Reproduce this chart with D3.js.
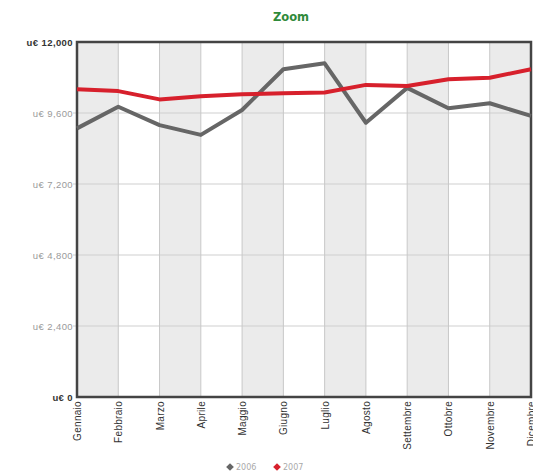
<!DOCTYPE html>
<html>
<head>
<meta charset="utf-8">
<script src="https://cdn.jsdelivr.net/npm/d3@7"></script>
<style>
  html, body { margin: 0; padding: 0; background: #fff; }
  svg { display: block; font-family: "DejaVu Sans", Verdana, sans-serif; }
</style>
</head>
<body>
<svg id="chart" width="533" height="476"></svg>
<script>
// Monthly values (u€) for the two years
const months = ["Gennaio", "Febbraio", "Marzo", "Aprile", "Maggio", "Giugno",
                "Luglio", "Agosto", "Settembre", "Ottobre", "Novembre", "Dicembre"];
const values2006 = [9080, 9810, 9190, 8860, 9700, 11080, 11280, 9270, 10450, 9760, 9930, 9500];
const values2007 = [10400, 10340, 10060, 10170, 10230, 10270, 10290, 10550, 10510, 10740, 10790, 11080];
const yTicks = [0, 2400, 4800, 7200, 9600, 12000];
const seriesNames = ["2006", "2007"];
const seriesColors = ["#666666", "#d7202c"];

const svg = d3.select("#chart");
const plotLeft = 77, plotRight = 531, plotTop = 42, plotBottom = 397;

const x = d3.scalePoint().domain(months).range([plotLeft, plotRight]);
const y = d3.scaleLinear().domain([0, 12000]).range([plotBottom, plotTop]);

// Title
svg.append("text")
  .attr("x", 291).attr("y", 21)
  .attr("text-anchor", "middle")
  .attr("font-size", 11.5).attr("font-weight", "bold")
  .attr("fill", "#2f8a3a")
  .text("Zoom");

// Alternating column bands
const bands = months.slice(0, -1).map((m, i) => ({ m, next: months[i + 1], i }))
  .filter(d => d.i % 2 === 0);
svg.append("g").selectAll("rect").data(bands).join("rect")
  .attr("x", d => x(d.m)).attr("y", plotTop)
  .attr("width", d => x(d.next) - x(d.m)).attr("height", plotBottom - plotTop)
  .attr("fill", "#ebebeb");

// Horizontal grid
svg.append("g").selectAll("line").data(yTicks.slice(1, -1)).join("line")
  .attr("x1", plotLeft - 4).attr("x2", plotRight)
  .attr("y1", d => y(d)).attr("y2", d => y(d))
  .attr("stroke", "#cfcfcf").attr("stroke-width", 1);

// Vertical grid at each month
svg.append("g").selectAll("line").data(months.slice(1, -1)).join("line")
  .attr("x1", d => x(d)).attr("x2", d => x(d))
  .attr("y1", plotTop).attr("y2", plotBottom)
  .attr("stroke", "#c8c8c8").attr("stroke-width", 1);

// Y axis labels
const yAxis = d3.axisLeft(y).tickValues(yTicks).tickSize(0).tickPadding(4)
  .tickFormat(d => "u€ " + d3.format(",")(d));
const gy = svg.append("g").attr("transform", `translate(${plotLeft},0)`).call(yAxis);
gy.select(".domain").remove();
gy.selectAll("text")
  .attr("font-size", 9.5)
  .attr("letter-spacing", 0.4)
  .attr("fill", d => (d === 0 || d === 12000) ? "#333333" : "#9a9a9a")
  .attr("font-weight", d => (d === 0 || d === 12000) ? "bold" : "normal");

// X axis labels, rotated
const xAxis = d3.axisBottom(x).tickSize(0).tickPadding(0);
const gx = svg.append("g").attr("transform", `translate(0,${plotBottom})`).call(xAxis);
gx.select(".domain").remove();
gx.selectAll("text")
  .attr("font-size", 10)
  .attr("letter-spacing", 0.3)
  .attr("fill", "#333333")
  .attr("text-anchor", "end")
  .attr("dy", "0.35em")
  .attr("transform", "translate(0,4) rotate(-90)")
  .attr("x", 0).attr("y", 0);

// Plot frame
svg.append("rect")
  .attr("x", plotLeft).attr("y", plotTop)
  .attr("width", plotRight - plotLeft).attr("height", plotBottom - plotTop)
  .attr("fill", "none").attr("stroke", "#444").attr("stroke-width", 2.5);

// Series lines
const line = d3.line().x((d, i) => x(months[i])).y(d => y(d));
[values2006, values2007].forEach((vals, k) => {
  svg.append("path")
    .datum(vals)
    .attr("d", line)
    .attr("fill", "none")
    .attr("stroke", seriesColors[k])
    .attr("stroke-width", 4)
    .attr("stroke-linejoin", "round");
});

// Legend
const legend = svg.append("g");
const legendX = [230, 277];
seriesNames.forEach((name, k) => {
  const g = legend.append("g").attr("transform", `translate(${legendX[k]},467)`);
  g.append("path")
    .attr("d", d3.symbol(d3.symbolSquare, 30)())
    .attr("transform", "rotate(45)")
    .attr("fill", seriesColors[k]);
  g.append("text")
    .attr("x", 6).attr("y", 3)
    .attr("font-size", 8).attr("fill", "#aaa")
    .text(name);
});
</script>
</body>
</html>
